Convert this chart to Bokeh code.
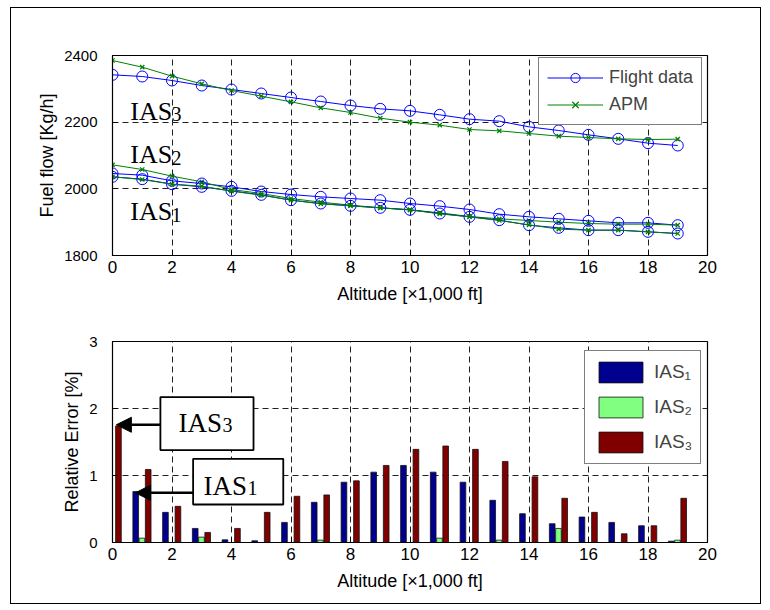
from bokeh.plotting import figure
from bokeh.models import (Range1d, Legend, LegendItem, Arrow, NormalHead,
                          FixedTicker, ColumnDataSource)
from bokeh.layouts import column
from bokeh.transform import dodge
from bokeh.core.properties import value
from bokeh.embed import file_html
from bokeh.resources import INLINE

# ---------------- data ----------------
altitude = list(range(20))  # x 1,000 ft

ias3_flight = [2342, 2337, 2325, 2310, 2298, 2286, 2274, 2262, 2250, 2240,
               2234, 2222, 2209, 2203, 2186, 2175, 2162, 2150, 2137, 2130]
ias3_apm = [2385, 2365, 2338, 2315, 2295, 2278, 2261, 2243, 2229, 2212,
            2200, 2191, 2178, 2174, 2166, 2158, 2154, 2150, 2148, 2149]
ias1_flight = [2046, 2041, 2024, 2016, 2006, 1992, 1983, 1976, 1971, 1966,
               1956, 1948, 1938, 1924, 1916, 1910, 1904, 1898, 1898, 1891]
ias1_apm = [2072, 2058, 2038, 2021, 1998, 1986, 1971, 1960, 1951, 1943,
            1937, 1928, 1917, 1910, 1905, 1900, 1896, 1894, 1894, 1891]
ias2_flight = [2036, 2029, 2014, 2006, 1994, 1982, 1966, 1956, 1949, 1943,
               1937, 1926, 1916, 1906, 1891, 1883, 1876, 1876, 1871, 1866]
ias2_apm = [2036, 2028, 2014, 2008, 1993, 1981, 1966, 1955, 1949, 1943,
            1937, 1925, 1916, 1905, 1892, 1879, 1876, 1876, 1871, 1866]

err_ias1 = [0, 0.76, 0.45, 0.21, 0.04, 0.025, 0.30, 0.60, 0.90, 1.05,
            1.15, 1.05, 0.90, 0.63, 0.43, 0.28, 0.38, 0.30, 0.25, 0.02]
err_ias2 = [0, 0.065, 0, 0.08, 0, 0, 0, 0.035, 0, 0,
            0, 0.065, 0, 0.035, 0, 0.21, 0, 0, 0, 0.035]
err_ias3 = [1.74, 1.09, 0.54, 0.15, 0.21, 0.45, 0.69, 0.71, 0.92, 1.15,
            1.39, 1.44, 1.39, 1.21, 0.98, 0.66, 0.45, 0.13, 0.25, 0.66]

x_ticks = list(range(0, 21, 2))
fuel_ticks = [1800, 2000, 2200, 2400]
err_ticks = [0, 1, 2, 3]

# annotation texts (top plot): "IAS" + subscript digit
top_main = ["IAS", "IAS", "IAS"]
top_main_x = [0.6, 0.6, 0.6]
top_main_y = [2232, 2103, 1932]
top_sub = ["3", "2", "1"]
top_sub_x = [1.98, 1.98, 1.98]
top_sub_y = [2226, 2093, 1923]

# callout boxes (bottom plot)
box_left = [1.61, 2.71]
box_right = [4.74, 5.74]
box_bottom = [1.38, 0.567]
box_top = [2.17, 1.249]
box_main = ["IAS", "IAS"]
box_main_x = [2.22, 3.06]
box_main_y = [1.79, 0.85]
box_sub = ["3", "1"]
box_sub_x = [3.70, 4.54]
box_sub_y = [1.75, 0.81]
arrow_y = [1.757, 0.742]
arrow_end_x = [0.13, 0.77]

SANS = "Liberation Sans"
SERIF = "Liberation Serif"
BLUE = "#0000FF"
GREEN = "#008000"


def style(p, yticks):
    p.xaxis.ticker = FixedTicker(ticks=x_ticks)
    p.yaxis.ticker = FixedTicker(ticks=yticks)
    for ax in p.axis:
        ax.major_tick_in = 5
        ax.major_tick_out = 0
        ax.minor_tick_line_color = None
        ax.axis_line_color = "black"
        ax.major_tick_line_color = "black"
        ax.major_label_text_font = SANS
        ax.major_label_text_color = "black"
        ax.axis_label_text_font = SANS
        ax.axis_label_text_font_style = "normal"
        ax.axis_label_text_font_size = "18px"
        ax.axis_label_text_color = "black"
    p.xaxis.major_label_text_font_size = "17px"
    p.yaxis.major_label_text_font_size = "15px"
    p.xaxis.major_label_standoff = 5
    p.yaxis.major_label_standoff = 15
    p.xaxis.axis_label_standoff = 8
    p.yaxis.axis_label_standoff = 4
    for g in (p.xgrid, p.ygrid):
        g.grid_line_color = "#202020"
        g.grid_line_dash = "6 4"
        g.grid_line_width = 1
    p.outline_line_color = "black"
    p.outline_line_width = 1.2
    p.background_fill_color = "white"
    p.border_fill_color = "white"


# ---------------- top figure ----------------
p1 = figure(width=749, height=300, x_range=Range1d(0, 20), y_range=Range1d(1800, 2400),
            output_backend="svg", toolbar_location=None,
            min_border_left=101, min_border_right=53, min_border_top=47, min_border_bottom=53)
style(p1, fuel_ticks)
p1.xaxis.axis_label = "Altitude [\u00d71,000 ft]"
p1.yaxis.axis_label = "Fuel flow [Kg/h]"

flight_renderers = []
apm_renderers = []
for fl, ap in ((ias3_flight, ias3_apm), (ias1_flight, ias1_apm), (ias2_flight, ias2_apm)):
    lf = p1.line(altitude, fl, line_color=BLUE, line_width=1)
    sf = p1.scatter(altitude, fl, marker="circle", size=11, fill_color=None,
                    line_color=BLUE, line_width=1)
    la = p1.line(altitude, ap, line_color=GREEN, line_width=1)
    sa = p1.scatter(altitude, ap, marker="x", size=6, line_color=GREEN, line_width=1.2)
    if not flight_renderers:
        flight_renderers = [lf, sf]
        apm_renderers = [la, sa]

p1.text(x=top_main_x, y=top_main_y, text=top_main, text_font=value(SERIF),
        text_font_size="26px", text_color="black", text_baseline="alphabetic",
        text_align="left")
p1.text(x=top_sub_x, y=top_sub_y, text=top_sub, text_font=value(SERIF),
        text_font_size="20px", text_color="black", text_baseline="alphabetic",
        text_align="left")

leg1 = Legend(items=[LegendItem(label="Flight data", renderers=flight_renderers),
                     LegendItem(label="APM", renderers=apm_renderers)],
              location=(426, 130), glyph_width=56, glyph_height=23, spacing=4,
              padding=8, label_standoff=6, margin=0,
              label_text_font=SANS, label_text_font_size="18px",
              border_line_color="black", border_line_width=1.5,
              background_fill_color="white", background_fill_alpha=1)
p1.add_layout(leg1)

# ---------------- bottom figure ----------------
p2 = figure(width=749, height=295, x_range=Range1d(0, 20), y_range=Range1d(0, 3),
            output_backend="svg", toolbar_location=None,
            min_border_left=101, min_border_right=53, min_border_top=33, min_border_bottom=61)
style(p2, err_ticks)
p2.xaxis.axis_label = "Altitude [\u00d71,000 ft]"
p2.yaxis.axis_label = "Relative Error [%]"

src = ColumnDataSource(dict(x=altitude, e1=err_ias1, e2=err_ias2, e3=err_ias3))
b1 = p2.vbar(x=dodge("x", -0.22, range=p2.x_range), top="e1", width=0.19, source=src,
             fill_color="#00008F", line_color="#111111", line_width=0.8)
b2 = p2.vbar(x=dodge("x", -0.01, range=p2.x_range), top="e2", width=0.19, source=src,
             fill_color="#80FF80", line_color="#111111", line_width=0.8)
b3 = p2.vbar(x=dodge("x", 0.20, range=p2.x_range), top="e3", width=0.19, source=src,
             fill_color="#800000", line_color="#111111", line_width=0.8)

p2.quad(left=box_left, right=box_right, bottom=box_bottom, top=box_top,
        fill_color="white", line_color="black", line_width=1.8)
p2.text(x=box_main_x, y=box_main_y, text=box_main, text_font=value(SERIF),
        text_font_size="27px", text_color="black", text_align="left",
        text_baseline="alphabetic")
p2.text(x=box_sub_x, y=box_sub_y, text=box_sub, text_font=value(SERIF),
        text_font_size="20px", text_color="black", text_align="left",
        text_baseline="alphabetic")
for xs, ys, xe in zip(box_left, arrow_y, arrow_end_x):
    p2.add_layout(Arrow(end=NormalHead(size=15, fill_color="black", line_color="black"),
                        x_start=xs, y_start=ys, x_end=xe, y_end=ys,
                        line_color="black", line_width=2.5))

leg2 = Legend(items=[LegendItem(label="IAS\u2081", renderers=[b1]),
                     LegendItem(label="IAS\u2082", renderers=[b2]),
                     LegendItem(label="IAS\u2083", renderers=[b3])],
              location=(472, 78), glyph_width=55, glyph_height=26, spacing=9,
              padding=8, label_standoff=6, margin=0,
              label_text_font=SANS, label_text_font_size="19px",
              border_line_color="black", border_line_width=1.5,
              background_fill_color="white", background_fill_alpha=1)
p2.add_layout(leg2)

layout = column(p1, p2, spacing=0,
                styles={"border": "1px solid black", "margin-left": "10px", "margin-top": "7px"})

open("out.html", "w").write(file_html(layout, INLINE))
